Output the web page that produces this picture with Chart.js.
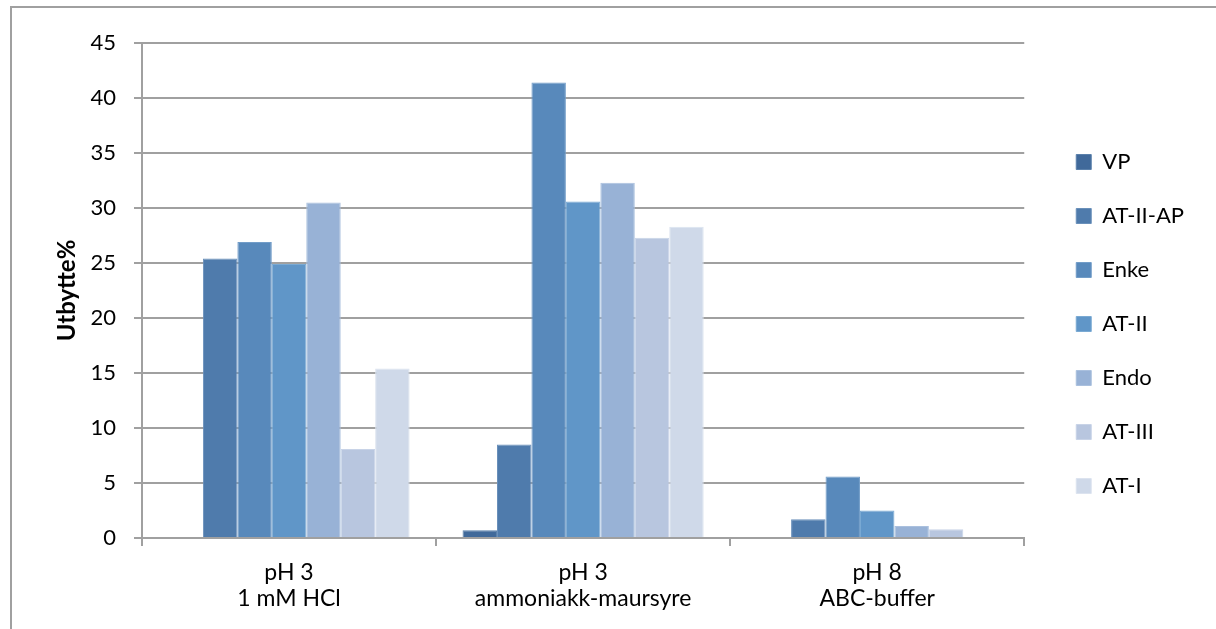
<!DOCTYPE html>
<html>
<head>
<meta charset="utf-8">
<script src="https://cdn.jsdelivr.net/npm/chart.js@4/dist/chart.umd.min.js"></script>
<style>
  body { margin: 0; background: #fff; }
  #wrap { position: relative; width: 1216px; height: 629px; }
  #frame { position: absolute; left: 10px; top: 6px; right: -4px; bottom: -4px;
           border-top: 2px solid #a0a0a0; border-left: 2px solid #a0a0a0; }
  canvas { position: absolute; left: 0; top: 0; }
</style>
</head>
<body>
<div id="wrap">
  <div id="frame"></div>
  <canvas id="myChart" width="1216" height="629"></canvas>
</div>
<script>
// Kategorier (to linjer per etikett)
const categories = [
    ['pH 3', '1 mM HCl'],
    ['pH 3', 'ammoniakk-maursyre'],
    ['pH 8', 'ABC-buffer']
];

// Utbytte i prosent per metode
const seriesNames = ['VP', 'AT-II-AP', 'Enke', 'AT-II', 'Endo', 'AT-III', 'AT-I'];
const vp      = [null, 0.7, null];
const atIIap  = [25.4, 8.5, 1.7];
const enke    = [26.9, 41.4, 5.6];
const atII    = [24.9, 30.6, 2.5];
const endo    = [30.5, 32.3, 1.1];
const atIII   = [8.1, 27.3, 0.8];
const atI     = [15.4, 28.3, null];

const yTicks = [0, 5, 10, 15, 20, 25, 30, 35, 40, 45];

const seriesValues = [vp, atIIap, enke, atII, endo, atIII, atI];
const colors = ['#40699a', '#4f7bac', '#5889bb', '#6096c8', '#98b2d6', '#b8c6df', '#cfd9e9'];
const edges  = ['#5a80ab', '#6a90ba', '#729dc8', '#7aaad3', '#aac0de', '#c8d3e7', '#dce3ef'];

const FONT = 'Lato, "Open Sans", sans-serif';
const GRID = '#a0a0a0';

const datasets = seriesNames.map((name, i) => ({
    label: name,
    data: seriesValues[i],
    backgroundColor: colors[i],
    borderColor: edges[i],
    borderWidth: 1,
    borderSkipped: 'bottom',
    categoryPercentage: 0.82,
    barPercentage: 1.0
}));

const ctx = document.getElementById('myChart').getContext('2d');
new Chart(ctx, {
    type: 'bar',
    data: { labels: categories, datasets: datasets },
    options: {
        responsive: false,
        animation: false,
        layout: { padding: { top: 43, left: 53, right: 22, bottom: 3 } },
        plugins: {
            tooltip: { enabled: false },
            legend: {
                position: 'right',
                align: 'start',
                // tom tittel = luft over første element
                title: { display: true, text: '', padding: { top: 0, bottom: 52 }, font: { size: 20, lineHeight: 1.2 } },
                labels: {
                    boxWidth: 15,
                    boxHeight: 15,
                    padding: 32,
                    color: '#000',
                    font: { family: FONT, size: 22 }
                }
            }
        },
        scales: {
            x: {
                grid: { offset: true, drawOnChartArea: false, drawTicks: true, tickLength: 8, color: GRID, lineWidth: 2 },
                border: { color: GRID, width: 2 },
                ticks: { color: '#000', padding: 14, font: { family: FONT, size: 23, lineHeight: 1.13 } }
            },
            y: {
                min: 0,
                max: 45,
                afterBuildTicks: axis => { axis.ticks = yTicks.map(v => ({ value: v })); },
                afterFit: axis => { axis.width = 89; },
                grid: { color: GRID, lineWidth: 2, tickLength: 8 },
                border: { color: GRID, width: 2 },
                ticks: { color: '#000', padding: 18, font: { family: FONT, size: 22 } },
                title: {
                    display: true,
                    text: 'Utbytte%',
                    color: '#000',
                    padding: { top: 0, bottom: 0 },
                    font: { family: FONT, size: 24, weight: 'bold' }
                }
            },
            // smal usynlig akse som gir luft mellom plottet og forklaringen
            gap: {
                position: 'right',
                display: true,
                grid: { display: false },
                border: { display: false },
                ticks: { display: false },
                afterFit: axis => { axis.width = 20; }
            }
        }
    }
});
</script>
</body>
</html>
